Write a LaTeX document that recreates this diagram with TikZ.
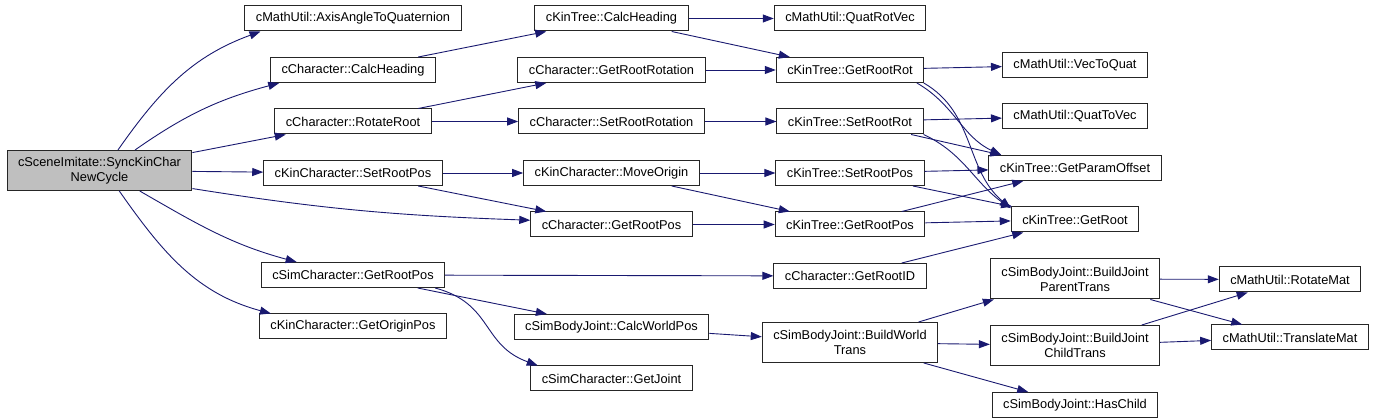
\documentclass[tikz,border=0pt]{standalone}
\usepackage{fontspec}
\setmainfont{Liberation Sans}
\usepackage{xcolor}
\usetikzlibrary{arrows.meta}
\usetikzlibrary{positioning}
\definecolor{callblue}{RGB}{25,25,112}

\begin{document}
\begin{tikzpicture}[x=1pt,y=-1pt,
    fn/.style={draw=black!85, line width=1pt, fill=white, minimum height=25pt,
        inner xsep=11pt, inner ysep=2pt, align=center, font=\fontsize{12.8}{15}\selectfont},
    fnwide/.style={fn, minimum height=40pt},
    fnroot/.style={fnwide, fill=black!25},
    call/.style={draw=callblue, line width=0.9pt, -{Triangle[length=11pt,width=8pt]}}]
    \useasboundingbox (0,0) rectangle (1376,419);

    \node[fnroot] (root) at (99.5,170.5) {cSceneImitate::SyncKinChar\\NewCycle};

    \node[fn] (aatq) at (353,18.5) {cMathUtil::AxisAngleToQuaternion};
    \node[fn, below=25.5pt of aatq] (chHead) {cCharacter::CalcHeading};
    \node[fn, below=25.5pt of chHead] (rotRoot) {cCharacter::RotateRoot};
    \node[fn, below=25.5pt of rotRoot] (kcSetPos) {cKinCharacter::SetRootPos};
    \node[fn, below=76pt of kcSetPos] (scGetPos) {cSimCharacter::GetRootPos};
    \node[fn, below=25.5pt of scGetPos] (kcOrigin) {cKinCharacter::GetOriginPos};

    \node[fn] (ktHead) at (611.5,18.5) {cKinTree::CalcHeading};
    \node[fn, below=25.5pt of ktHead] (chGetRot) {cCharacter::GetRootRotation};
    \node[fn, below=25.5pt of chGetRot] (chSetRot) {cCharacter::SetRootRotation};
    \node[fn, below=25.5pt of chSetRot] (kcMove) {cKinCharacter::MoveOrigin};
    \node[fn, below=25.5pt of kcMove] (chGetPos) {cCharacter::GetRootPos};
    \node[fn, below=76.5pt of chGetPos] (sbjCalc) {cSimBodyJoint::CalcWorldPos};
    \node[fn, below=25.5pt of sbjCalc] (scJoint) {cSimCharacter::GetJoint};

    \node[fn] (muQRV) at (850,18.5) {cMathUtil::QuatRotVec};
    \node[fn, below=25.5pt of muQRV] (ktGetRot) {cKinTree::GetRootRot};
    \node[fn, below=25.5pt of ktGetRot] (ktSetRot) {cKinTree::SetRootRot};
    \node[fn, below=25.5pt of ktSetRot] (ktSetPos) {cKinTree::SetRootPos};
    \node[fn, below=25.5pt of ktSetPos] (ktGetPos) {cKinTree::GetRootPos};
    \node[fn, below=25.5pt of ktGetPos] (chRootID) {cCharacter::GetRootID};
    \node[fnwide, below=33pt of chRootID] (sbjBuildW) {cSimBodyJoint::BuildWorld\\Trans};

    \node[fn] (muV2Q) at (1075,65) {cMathUtil::VecToQuat};
    \node[fn, below=25.5pt of muV2Q] (muQ2V) {cMathUtil::QuatToVec};
    \node[fn, below=25.5pt of muQ2V] (ktParam) {cKinTree::GetParamOffset};
    \node[fn, below=25.5pt of ktParam] (ktRoot) {cKinTree::GetRoot};
    \node[fnwide, below=26pt of ktRoot] (sbjParent) {cSimBodyJoint::BuildJoint\\ParentTrans};
    \node[fnwide, below=25.5pt of sbjParent] (sbjChild) {cSimBodyJoint::BuildJoint\\ChildTrans};
    \node[fn, below=26pt of sbjChild] (sbjHasChild) {cSimBodyJoint::HasChild};

    \node[fn] (muRot) at (1290,279.5) {cMathUtil::RotateMat};
    \node[fn, below=32pt of muRot] (muTrans) {cMathUtil::TranslateMat};

    \foreach \a/\b in {root/rotRoot, root/kcSetPos, chHead/ktHead, rotRoot/chGetRot,
        rotRoot/chSetRot, kcSetPos/kcMove, kcSetPos/chGetPos, scGetPos/chRootID,
        scGetPos/sbjCalc, ktHead/muQRV, ktHead/ktGetRot, chGetRot/ktGetRot,
        chSetRot/ktSetRot, kcMove/ktSetPos, kcMove/ktGetPos, chGetPos/ktGetPos,
        ktGetRot/muV2Q, ktSetRot/muQ2V, ktSetPos/ktParam, ktSetPos/ktRoot,
        ktGetPos/ktParam, ktGetPos/ktRoot, chRootID/ktRoot, sbjCalc/sbjBuildW,
        sbjBuildW/sbjChild, sbjBuildW/sbjHasChild, sbjParent/muRot,
        sbjParent/muTrans, sbjChild/muRot, sbjChild/muTrans}
        \draw[call] (\a) -- (\b);

    \draw[call] (root.48) to[out=55,in=200] (aatq.188);
    \draw[call] (root.30) to[out=35,in=195] (chHead.190);
    \draw[call] (root.-11) to[out=-9,in=178] (chGetPos.177);
    \draw[call] (root.-27) to[out=-30,in=165] (scGetPos.167);
    \draw[call] (root.-46) to[out=-55,in=165] (kcOrigin.171);
    \draw[call] (scGetPos.-9) to[out=-15,in=160,looseness=1.2] (scJoint.170);
    \draw[call] (ktGetRot.-11) to[out=-30,in=155] (ktParam.170);
    \draw[call] (ktGetRot.-10) to[out=-30,in=140] (ktRoot.170);
    \draw[call] (ktSetRot.-12) -- (ktParam.170);
    \draw[call] (ktSetRot.-10) to[out=-25,in=145] (ktRoot.170);
    \draw[call] (sbjBuildW) -- ([xshift=4pt]sbjParent.south west);
\end{tikzpicture}
\end{document}
